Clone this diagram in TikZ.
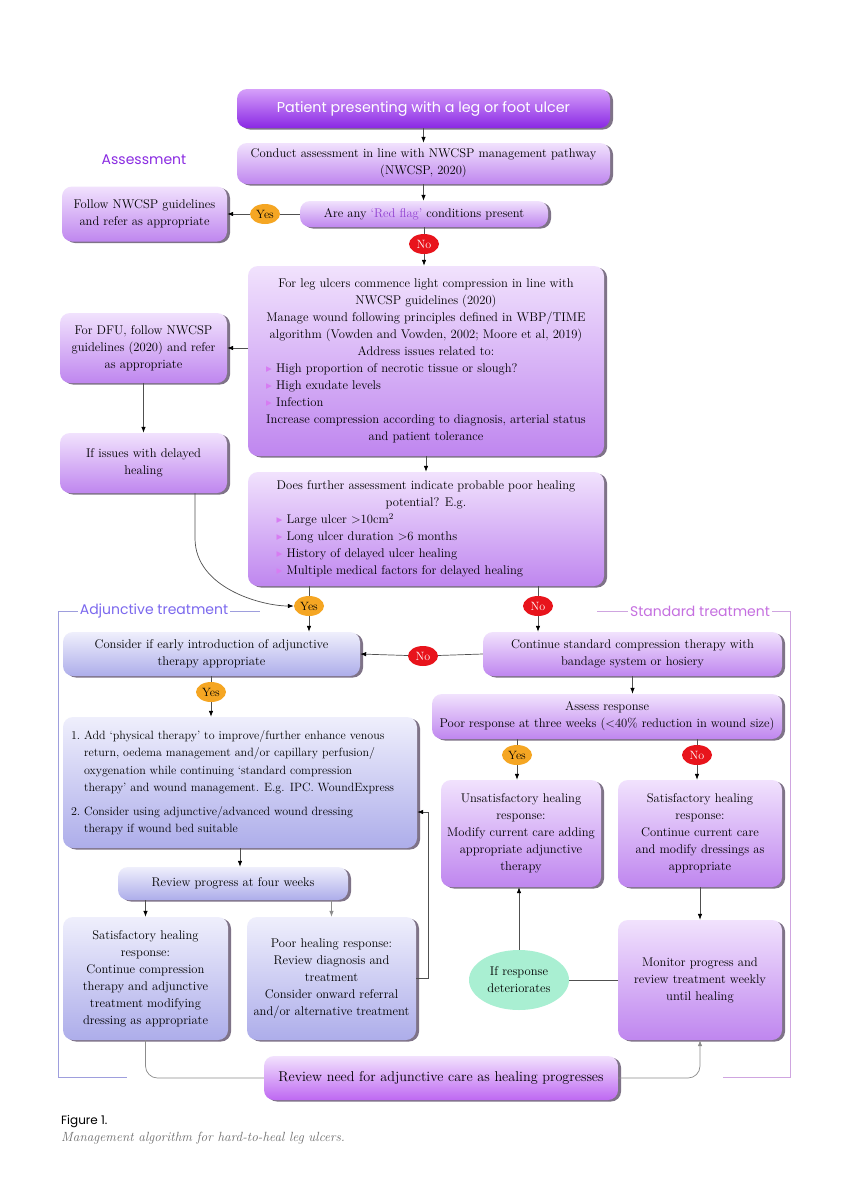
\documentclass[tikz,border=0pt]{standalone}
\usepackage{fontspec}
\newfontfamily\headfont{Poppins}
\newfontfamily\symfont{DejaVu Sans}
\usetikzlibrary{shapes.geometric,arrows.meta,shadows}
\definecolor{pTop}{HTML}{F1E2FD}
\definecolor{pBot}{HTML}{BF86EF}
\definecolor{bTop}{HTML}{EFEFFC}
\definecolor{bBot}{HTML}{ADADEA}
\definecolor{tTop}{HTML}{D6A0FA}
\definecolor{tBot}{HTML}{8A28E4}
\definecolor{rTop}{HTML}{F2E2FD}
\definecolor{rBot}{HTML}{BE68F2}
\definecolor{yesC}{HTML}{F5A623}
\definecolor{noC}{HTML}{E8141C}
\definecolor{mint}{HTML}{A9EFD2}
\definecolor{assessC}{HTML}{8A2BE2}
\definecolor{adjC}{HTML}{7B68EE}
\definecolor{stdC}{HTML}{C56FE0}
\definecolor{adjLine}{HTML}{9E9EDD}
\definecolor{stdLine}{HTML}{CFA5E0}
\definecolor{bul}{HTML}{D77CF2}
\definecolor{shad}{HTML}{2A163A}
\definecolor{lineC}{HTML}{505050}
\definecolor{lineG}{HTML}{8C8C8C}
\definecolor{flagC}{HTML}{9040D0}
\newcommand\bodyfont{\fontsize{12.6}{17}\selectfont}
\newcommand\onefont{\fontsize{12}{17.5}\selectfont}
\newcommand\bigfont{\fontsize{14.2}{17}\selectfont}
\newcommand\ovalfont{\fontsize{12}{14}\selectfont}
\newcommand\tri{{\symfont\fontsize{7.5}{8}\selectfont\color{bul}\raisebox{1.5pt}{▶}}}
\newcommand\bl[1]{\multicolumn{1}{@{}l@{}}{\tri\ #1}}
\begin{document}
\begin{tikzpicture}[x=1pt,y=-1pt,
  box/.style={rectangle, rounded corners=10pt, inner sep=0pt, align=center, font=\bodyfont,
    drop shadow={shadow xshift=3pt, shadow yshift=-1.5pt, fill=shad, opacity=0.6}},
  pbox/.style={box, top color=pTop, bottom color=pBot},
  bbox/.style={box, top color=bTop, bottom color=bBot},
  tbox/.style={box, top color=tTop, bottom color=tBot},
  rbox/.style={box, top color=rTop, bottom color=rBot},
  yes/.style={ellipse, fill=yesC, minimum width=30pt, minimum height=20pt, inner sep=0pt, font=\ovalfont, text=black},
  no/.style={ellipse, fill=noC, minimum width=30pt, minimum height=20pt, inner sep=0pt, font=\ovalfont, text=white},
  ln/.style={draw=lineC, line width=0.7pt},
  lng/.style={draw=lineG, line width=0.7pt},
  arr/.style={ln, -{Latex[length=6pt,width=4.5pt,color=black]}},
  arrg/.style={lng, -{Latex[length=6pt,width=4.5pt,color=lineG]}},
  lab/.style={font=\headfont\fontsize{14}{16}\selectfont, inner sep=2pt},
  adjline/.style={draw=adjLine, line width=0.8pt},
  stdline/.style={draw=stdLine, line width=0.8pt}
]
\fill[white] (0,0) rectangle (849,1200);
\useasboundingbox (0,0) rectangle (849,1200);

% ---- assessment ----
\node[tbox, minimum width=373pt, minimum height=39pt] (title) at (423.5,108.5)
  {\headfont\fontsize{14.3}{17}\selectfont\color{white}Patient presenting with a leg or foot ulcer};
\node[pbox, minimum width=373pt, minimum height=41pt] (conduct) at (423.5,163.5)
  {Conduct assessment in line with NWCSP management pathway\\(NWCSP, 2020)};
\node[lab, text=assessC] (assesslab) at (144,160) {Assessment};
\node[pbox, minimum width=248pt, minimum height=26pt] (redflag) at (424,214)
  {Are any \textcolor{flagC}{‘Red flag’} conditions present};
\node[pbox, minimum width=165pt, minimum height=55pt] (follow) at (144.5,214)
  {Follow NWCSP guidelines\\and refer as appropriate};
\node[yes] (yes1) at (265,214) {Yes};
\node[no] (no1) at (424,244) {No};
\node[pbox, minimum width=356pt, minimum height=190pt] (big) at (426,361)
  {\begin{tabular}{@{}c@{}}
   For leg ulcers commence light compression in line with\\
   NWCSP guidelines (2020)\\
   Manage wound following principles defined in WBP/TIME\\
   algorithm (Vowden and Vowden, 2002; Moore et al, 2019)\\
   Address issues related to:\\
   \bl{High proportion of necrotic tissue or slough?}\\
   \bl{High exudate levels}\\
   \bl{Infection}\\
   Increase compression according to diagnosis, arterial status\\
   and patient tolerance
   \end{tabular}};
\node[pbox, minimum width=167pt, minimum height=70pt] (dfu) at (143.5,348)
  {For DFU, follow NWCSP\\guidelines (2020) and refer\\as appropriate};
\node[pbox, minimum width=167pt, minimum height=60pt] (issues) at (143.5,463)
  {If issues with delayed\\healing};
\node[pbox, minimum width=356pt, minimum height=114pt] (does) at (426,529)
  {\begin{tabular}{@{}c@{}}
   Does further assessment indicate probable poor healing\\
   potential? E.g.\\
   \bl{Large ulcer >10cm\textsuperscript{2}}\\
   \bl{Long ulcer duration >6 months}\\
   \bl{History of delayed ulcer healing}\\
   \bl{Multiple medical factors for delayed healing}
   \end{tabular}};
\node[yes] (yes2) at (309,606) {Yes};
\node[no] (no2) at (538,606) {No};

% ---- section labels / frames ----
\node[lab, text=adjC] (adjlab) at (154,611) {Adjunctive treatment};
\node[lab, text=stdC] (stdlab) at (700,611) {Standard treatment};
\draw[adjline] (adjlab.east) -- (260,611);
\draw[adjline] (adjlab.west) -- (58,611) -- (58,1077) -- (127,1077);
\draw[stdline] (stdlab.west) -- (597,611);
\draw[stdline] (stdlab.east) -- (790,611) -- (790,1077) -- (723,1077);

% ---- treatment ----
\node[bbox, minimum width=297pt, minimum height=44pt] (consider) at (211.5,654)
  {Consider if early introduction of adjunctive\\therapy appropriate};
\node[pbox, minimum width=299pt, minimum height=44pt] (continue) at (632.5,654)
  {Continue standard compression therapy with\\bandage system or hosiery};
\node[no] (no3) at (423,656) {No};
\node[yes] (yes3) at (211,692) {Yes};
\node[bbox, minimum width=354pt, minimum height=131pt, font=\onefont] (one) at (240,782.5)
  {\makebox[338pt][l]{\begin{tabular}{@{}l@{}}
   1.~Add ‘physical therapy’ to improve/further enhance venous\\
   \phantom{1.~}return, oedema management and/or capillary perfusion/\\
   \phantom{1.~}oxygenation while continuing ‘standard compression\\
   \phantom{1.~}therapy’ and wound management. E.g. IPC. WoundExpress\\[6pt]
   2.~Consider using adjunctive/advanced wound dressing\\
   \phantom{1.~}therapy if wound bed suitable
   \end{tabular}}};
\node[pbox, minimum width=350pt, minimum height=45pt] (assess) at (607,716.5)
  {Assess response\\Poor response at three weeks (<40\% reduction in wound size)};
\node[yes] (yes4) at (517,755) {Yes};
\node[no] (no4) at (697,755) {No};
\node[pbox, minimum width=160pt, minimum height=107pt] (unsat) at (521,833.5)
  {Unsatisfactory healing\\response:\\Modify current care adding\\appropriate adjunctive\\therapy};
\node[pbox, minimum width=164pt, minimum height=107pt] (satR) at (700,833.5)
  {Satisfactory healing\\response:\\Continue current care\\and modify dressings as\\appropriate};
\node[bbox, minimum width=230pt, minimum height=33pt] (review4) at (233,883.5)
  {Review progress at four weeks};
\node[bbox, minimum width=165pt, minimum height=123pt] (satL) at (145.5,978.5)
  {Satisfactory healing\\response:\\Continue compression\\therapy and adjunctive\\treatment modifying\\dressing as appropriate};
\node[bbox, minimum width=169pt, minimum height=123pt] (poor) at (331.5,978.5)
  {Poor healing response:\\Review diagnosis and\\treatment\\Consider onward referral\\and/or alternative treatment};
\node[ellipse, fill=mint, minimum width=100pt, minimum height=60pt, inner sep=0pt, align=center, font=\bodyfont] (ell) at (519,980)
  {If response\\deteriorates};
\node[pbox, minimum width=164pt, minimum height=120pt] (monitor) at (700,980)
  {Monitor progress and\\review treatment weekly\\until healing};
\node[rbox, minimum width=354pt, minimum height=44pt, font=\bigfont] (reviewneed) at (441,1078)
  {Review need for adjunctive care as healing progresses};

% ---- caption ----
\node[anchor=base west, inner sep=0pt, font=\headfont\fontsize{12}{14}\selectfont] (fig) at (61,1124) {Figure 1.};
\node[anchor=base west, inner sep=0pt, font=\itshape\fontsize{13.3}{14}\selectfont, text=black!58] (cap) at (61,1141)
  {Management algorithm for hard-to-heal leg ulcers.};

% ---- connectors ----
\draw[arr] (title.south) -- (title.south |- conduct.north);
\draw[arr] (conduct.south) -- (conduct.south |- redflag.north);
\draw[ln] (redflag.west) -- (yes1);
\draw[arr] (yes1) -- (follow.east);
\draw[ln] (redflag) -- (no1);
\draw[arr] (no1) -- (no1 |- big.north);
\draw[arr] (big.west |- dfu) -- (dfu.east);
\draw[arr] (dfu) -- (issues);
\draw[arr] (big) -- (does);
\draw[arr] ([xshift=51.5pt]issues.south) -- ++(0,45) .. controls +(0,50) and (262,606) .. (yes2.west);
\draw[ln] (yes2 |- does.south) -- (yes2);
\draw[arr] (yes2) -- (yes2 |- consider.north);
\draw[ln] (no2 |- does.south) -- (no2);
\draw[arr] (no2) -- (no2 |- continue.north);
\draw[ln] (continue.west) -- (no3);
\draw[arr] (no3) -- (consider.east);
\draw[ln] (yes3 |- consider.south) -- (yes3);
\draw[arr] (yes3) -- (yes3 |- one.north);
\draw[arr] (continue.south) -- (continue.south |- assess.north);
\draw[ln] (yes4 |- assess.south) -- (yes4);
\draw[arr] (yes4) -- (yes4 |- unsat.north);
\draw[ln] (no4 |- assess.south) -- (no4);
\draw[arr] (no4) -- (no4 |- satR.north);
\coordinate (j1) at (428,812);
\draw[arr] (poor.east) -| (j1) -- (j1 -| one.east);
\draw[arr] (one.south) -- (one.south |- review4.north);
\draw[arr] (satL.north |- review4.south) -- (satL.north);
\draw[arrg] (poor.north |- review4.south) -- (poor.north);
\draw[arr] (ell.north) -- (ell.north |- unsat.south);
\draw[ln] (monitor.west) -- (ell.east);
\draw[arr] (satR.south) -- (satR.south |- monitor.north);
\draw[lng, rounded corners=12pt] (satL.south) |- (reviewneed.west);
\draw[arrg, rounded corners=12pt] (reviewneed.east) -| (monitor.south);
\end{tikzpicture}
\end{document}
